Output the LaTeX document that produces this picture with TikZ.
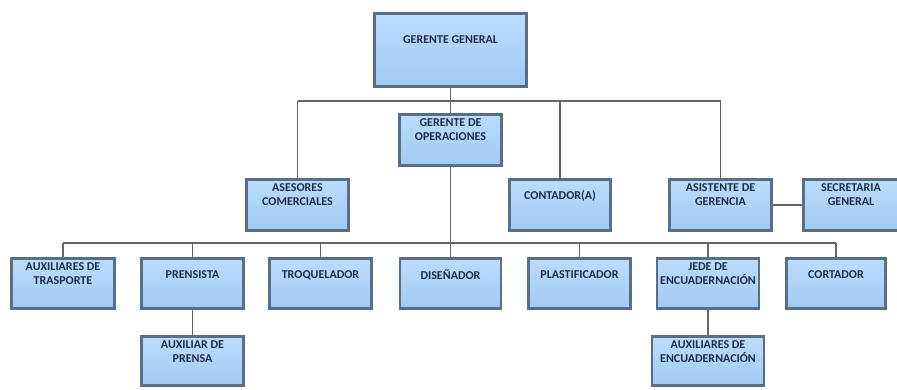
\documentclass[tikz,border=0pt]{standalone}
\usepackage{fontspec}
\setmainfont{Carlito}
\usetikzlibrary{shadows}
\definecolor{boxtop}{HTML}{BCDCFC}
\definecolor{boxbot}{HTML}{A0CAF4}
\definecolor{boxedge}{HTML}{5A6E88}
\definecolor{txtc}{HTML}{1C2D4A}
\definecolor{linec}{HTML}{666666}
\tikzset{
  obox/.style={rectangle, draw=boxedge, line width=2.8pt, top color=boxtop, bottom color=boxbot, inner sep=0pt,
    drop shadow={shadow xshift=0.8pt, shadow yshift=-1.4pt, fill=black!45, opacity=0.7}},
  otext/.style={font=\fontsize{12}{14}\selectfont\bfseries, text=txtc, align=center, inner sep=0pt},
  conn/.style={draw=linec, line width=1.3pt}
}
\newcommand\orgbox[7]{%
  \node[obox, minimum width=#4pt, minimum height=#5pt] (#1) at (#2,#3) {};
  \node[otext] (#1-t) at ([yshift=-#6pt]#1.north) {#7};
}
\begin{document}
\begin{tikzpicture}[x=1pt,y=-1pt]
\useasboundingbox (0,0) rectangle (897,390);
\coordinate (busA-l) at (297.5,101);
\coordinate (busA-r) at (720.5,101);
\coordinate (busB-l) at (63,243);
\coordinate (busB-r) at (836,243);
% boxes
\orgbox{gg}{450.5}{50}{152}{73}{28}{GERENTE GENERAL}
\orgbox{go}{450.5}{140}{102}{51}{17}{GERENTE DE\\OPERACIONES}
\orgbox{ase}{297.5}{205}{102}{51}{17}{ASESORES\\COMERCIALES}
\orgbox{con}{560}{205}{101}{51}{18}{CONTADOR(A)}
\orgbox{asi}{720.5}{205}{102}{51}{17}{ASISTENTE DE\\GERENCIA}
\orgbox{sec}{851}{205}{95}{51}{17}{SECRETARIA\\GENERAL}
\orgbox{aux}{63}{283.5}{103}{50}{17}{AUXILIARES DE\\TRASPORTE}
\orgbox{pre}{192.5}{283.5}{102}{50}{18}{PRENSISTA}
\orgbox{tro}{320.5}{283.5}{102}{50}{18}{TROQUELADOR}
\orgbox{dis}{450.5}{283.5}{101}{50}{18}{DISEÑADOR}
\orgbox{pla}{579.5}{283.5}{102}{50}{18}{PLASTIFICADOR}
\orgbox{jed}{708}{283.5}{102}{50}{17}{JEDE DE\\ENCUADERNACIÓN}
\orgbox{cor}{836}{283.5}{99}{50}{18}{CORTADOR}
\orgbox{apr}{192.5}{361}{102}{49}{17}{AUXILIAR DE\\PRENSA}
\orgbox{aen}{708}{361}{112}{49}{17}{AUXILIARES DE\\ENCUADERNACIÓN}
% connectors
\draw[conn] (gg.south) -- (go.north);
\draw[conn] (busA-l) -- (busA-r);
\draw[conn] (busA-l) -- (ase.north);
\draw[conn] (con.north |- busA-l) -- (con.north);
\draw[conn] (busA-r) -- (asi.north);
\draw[conn] (asi.east) -- (sec.west);
\draw[conn] (go.south) -- (dis.north);
\draw[conn] (busB-l) -- (busB-r);
\draw[conn] (busB-l) -- (aux.north);
\draw[conn] (pre.north |- busB-l) -- (pre.north);
\draw[conn] (tro.north |- busB-l) -- (tro.north);
\draw[conn] (pla.north |- busB-l) -- (pla.north);
\draw[conn] (jed.north |- busB-l) -- (jed.north);
\draw[conn] (busB-r) -- (cor.north);
\draw[conn] (pre.south) -- (apr.north);
\draw[conn] (jed.south) -- (aen.north);
\end{tikzpicture}
\end{document}
